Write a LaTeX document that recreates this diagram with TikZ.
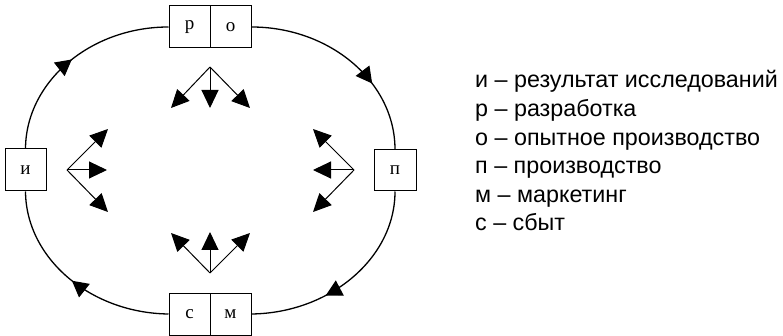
\documentclass[tikz,border=0pt]{standalone}
\usepackage{fontspec}
\setmainfont{Liberation Serif}
\newfontfamily\legendfont{Liberation Sans}
\usetikzlibrary{arrows.meta,decorations.markings}
\tikzset{
  box/.style={draw, line width=1pt, minimum width=41pt, minimum height=42pt, inner sep=0pt, font=\fontsize{19}{19}\selectfont},
  loopline/.style={line width=1.3pt},
  flowmark/.style={postaction={decorate}, decoration={markings, mark=at position #1 with {\arrow{Triangle[length=16pt,width=17pt]}}}},
  fan/.style={line width=1pt, -{Triangle[length=18pt,width=17pt]}},
  legend/.style={anchor=base west, inner sep=0pt, font=\legendfont\fontsize{23.3}{23.3}\selectfont}
}
\begin{document}
\begin{tikzpicture}[x=1pt,y=-1pt]
\useasboundingbox (0,0) rectangle (783,336);
% boxes
\node[box] (r) at (189.5,27) {р};
\node[box] (o) at (230.5,27) {о};
\node[box] (i) at (25.5,170) {и};
\node[box, minimum width=42pt, minimum height=41pt] (p) at (395,170.5) {п};
\node[box] (s) at (189.5,314) {с};
\node[box] (m) at (230.5,314) {м};
% loop
\draw[loopline, flowmark=0.5] (i.north) .. controls (26,82) and (90,27) .. (r.west);
\draw[loopline, flowmark=0.66] (o.east) .. controls (330,27) and (395,82) .. (p.north);
\draw[loopline, flowmark=0.63] (p.south) .. controls (395,258) and (330,313) .. (m.east);
\draw[loopline, flowmark=0.5] (s.west) .. controls (90,313) and (26,258) .. (i.south);
% fans
\coordinate (t0) at (210,67);
\coordinate (t1) at (171,108);
\coordinate (t2) at (210,108);
\coordinate (t3) at (250,108);
\draw[fan] (t0) -- (t1);
\draw[fan] (t0) -- (t2);
\draw[fan] (t0) -- (t3);
\coordinate (b0) at (210,273);
\coordinate (b1) at (171,233);
\coordinate (b2) at (210,232);
\coordinate (b3) at (250,233);
\draw[fan] (b0) -- (b1);
\draw[fan] (b0) -- (b2);
\draw[fan] (b0) -- (b3);
\coordinate (l0) at (67,170);
\coordinate (l1) at (108,129);
\coordinate (l2) at (107,170);
\coordinate (l3) at (108,212);
\draw[fan] (l0) -- (l1);
\draw[fan] (l0) -- (l2);
\draw[fan] (l0) -- (l3);
\coordinate (q0) at (354,170);
\coordinate (q1) at (313,129);
\coordinate (q2) at (313,170);
\coordinate (q3) at (313,212);
\draw[fan] (q0) -- (q1);
\draw[fan] (q0) -- (q2);
\draw[fan] (q0) -- (q3);
% legend
\node[legend] (g1) at (475,88) {и – результат исследований};
\node[legend] (g2) at (475,116.6) {р – разработка};
\node[legend] (g3) at (475,145.2) {о – опытное производство};
\node[legend] (g4) at (475,173.8) {п – производство};
\node[legend] (g5) at (475,202.4) {м – маркетинг};
\node[legend] (g6) at (475,231) {с – сбыт};
\end{tikzpicture}
\end{document}
